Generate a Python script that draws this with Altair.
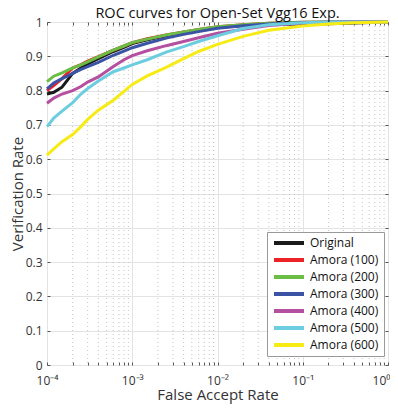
import altair as alt
import pandas as pd

# False accept rates at which the curves were read
far = [1e-4, 1.2e-4, 1.5e-4, 2e-4, 2.5e-4, 3e-4, 4e-4, 6e-4, 8e-4, 1e-3,
       1.5e-3, 2.5e-3, 4e-3, 6e-3, 1e-2, 2e-2, 4e-2, 1e-1, 2e-1, 4e-1, 1.0]

series_names = ["Original", "Amora (100)", "Amora (200)", "Amora (300)",
                "Amora (400)", "Amora (500)", "Amora (600)"]
series_colors = ["#1a1a1a", "#ec2227", "#6abd45", "#3a53a4",
                 "#b54fa0", "#6dcde0", "#f7eb16"]

original = [0.790, 0.795, 0.810, 0.850, 0.866, 0.878, 0.893, 0.914, 0.926, 0.937,
            0.948, 0.960, 0.969, 0.976, 0.984, 0.990, 0.993, 0.994, 0.995, 0.997, 1.0]
amora100 = [0.800, 0.815, 0.835, 0.866, 0.876, 0.886, 0.899, 0.918, 0.930, 0.940,
            0.951, 0.962, 0.971, 0.978, 0.986, 0.992, 0.996, 0.999, 1.0, 1.0, 1.0]
amora200 = [0.826, 0.842, 0.852, 0.866, 0.875, 0.884, 0.898, 0.918, 0.930, 0.940,
            0.950, 0.962, 0.971, 0.978, 0.986, 0.992, 0.996, 0.999, 1.0, 1.0, 1.0]
amora300 = [0.805, 0.822, 0.835, 0.850, 0.862, 0.870, 0.882, 0.903, 0.915, 0.925,
            0.938, 0.953, 0.964, 0.972, 0.982, 0.989, 0.994, 0.998, 0.999, 1.0, 1.0]
amora400 = [0.763, 0.778, 0.790, 0.800, 0.812, 0.825, 0.840, 0.870, 0.890, 0.902,
            0.916, 0.931, 0.943, 0.954, 0.967, 0.979, 0.990, 0.997, 0.999, 1.0, 1.0]
amora500 = [0.695, 0.720, 0.740, 0.765, 0.790, 0.806, 0.828, 0.855, 0.866, 0.875,
            0.890, 0.912, 0.928, 0.943, 0.960, 0.981, 0.992, 0.998, 1.0, 1.0, 1.0]
amora600 = [0.612, 0.630, 0.651, 0.672, 0.695, 0.716, 0.743, 0.772, 0.798, 0.818,
            0.843, 0.868, 0.893, 0.914, 0.935, 0.958, 0.976, 0.988, 0.994, 0.998, 1.0]

all_series = [original, amora100, amora200, amora300, amora400, amora500, amora600]

x_major = [1e-4, 1e-3, 1e-2, 1e-1, 1.0]
x_minor = [m * 10.0 ** e for e in (-4, -3, -2, -1) for m in range(2, 10)]
y_ticks = [round(0.1 * i, 1) for i in range(11)]

rows = []
for k, (name, vals) in enumerate(zip(series_names, all_series)):
    for f, v in zip(far, vals):
        rows.append({"series": name, "k": k, "far": f, "tar": v})
df = pd.DataFrame(rows)

minor_df = pd.DataFrame({"v": x_minor})
xtick_df = pd.DataFrame({"v": x_major + x_minor})
ytick_df = pd.DataFrame({"v": y_ticks})

W, H = 341, 343
FONT = "Open Sans"

xscale = alt.Scale(type="log", domain=[1e-4, 1.0], nice=False)
yscale = alt.Scale(domain=[0, 1], nice=False, zero=False)

sup_expr = ("datum.value == 1 ? '10\u2070' : datum.value == 0.1 ? '10\u207b\u00b9' : "
            "datum.value == 0.01 ? '10\u207b\u00b2' : datum.value == 0.001 ? '10\u207b\u00b3' : "
            "'10\u207b\u2074'")

minor_grid = alt.Chart(minor_df).mark_rule(
    color="#c4c4c4", strokeWidth=1, strokeDash=[1, 3]
).encode(
    x=alt.X("v:Q", scale=xscale,
            axis=alt.Axis(orient="top", offset=-H, values=x_major + x_minor,
                          labels=False, domain=False, grid=False, ticks=True,
                          tickSize=3, tickColor="#555", title=None))
)

top_ticks = alt.Chart(xtick_df).mark_rule(opacity=0).encode(
    x=alt.X("v:Q", scale=xscale,
            axis=alt.Axis(orient="bottom", offset=-H, values=x_major + x_minor,
                          labels=False, domain=False, grid=False, ticks=True,
                          tickSize=3, tickColor="#555", title=None))
)

left_ticks = alt.Chart(ytick_df).mark_rule(opacity=0).encode(
    y=alt.Y("v:Q", scale=yscale,
            axis=alt.Axis(orient="right", offset=-W, values=y_ticks,
                          labels=False, domain=False, grid=False, ticks=True,
                          tickSize=3, tickColor="#555", title=None))
)

right_ticks = alt.Chart(ytick_df).mark_rule(opacity=0).encode(
    y=alt.Y("v:Q", scale=yscale,
            axis=alt.Axis(orient="left", offset=-W, values=y_ticks,
                          labels=False, domain=False, grid=False, ticks=True,
                          tickSize=3, tickColor="#555", title=None))
)

lines = alt.Chart(df).mark_line(strokeWidth=3, clip=False).encode(
    x=alt.X("far:Q", scale=xscale,
            axis=alt.Axis(orient="bottom", values=x_major, labelExpr=sup_expr,
                          grid=True, gridColor="#e3e3e3", ticks=False,
                          domain=False, labelPadding=10, labelFontSize=12,
                          labelFlush=False,
                          labelAlign={"condition": {"test": "datum.value == 1",
                                                    "value": "right"},
                                      "value": "center"},
                          labelOffset={"condition": {"test": "datum.value == 1",
                                                     "value": 2},
                                       "value": 0},
                          labelColor="#333", title="False Accept Rate",
                          titleFontSize=15, titleFontWeight="normal",
                          titleColor="#333", titlePadding=1, labelFont=FONT,
                          titleFont=FONT)),
    y=alt.Y("tar:Q", scale=yscale,
            axis=alt.Axis(orient="left", values=y_ticks, format="~g",
                          grid=True, gridColor="#e3e3e3", ticks=False,
                          domain=False, labelPadding=5, labelFontSize=12,
                          labelFlush=False,
                          labelColor="#333", title="Verification Rate",
                          titleFontSize=15, titleFontWeight="normal",
                          titleColor="#333", titlePadding=0, labelFont=FONT,
                          titleFont=FONT)),
    color=alt.Color("series:N",
                    scale=alt.Scale(domain=series_names, range=series_colors),
                    sort=series_names,
                    legend=alt.Legend(orient="none", legendX=220, legendY=210,
                                      title=None, symbolType="stroke",
                                      symbolSize=900, symbolStrokeWidth=4,
                                      clipHeight=12,
                                      labelFontSize=12, labelFont=FONT,
                                      labelColor="#111", rowPadding=5,
                                      padding=5, fillColor="white",
                                      strokeColor="#999", labelOffset=4)),
    detail="k:O",
)

chart = alt.layer(minor_grid, top_ticks, left_ticks, right_ticks, lines).resolve_axis(
    x="independent", y="independent"
).properties(
    width=W, height=H,
    title=alt.TitleParams("ROC curves for Open-Set Vgg16 Exp.", fontSize=14.5,
                          font=FONT, fontWeight="normal", color="#111",
                          offset=6, dy=11, anchor="middle", frame="group"),
    padding={"left": 39, "top": 14, "right": 2, "bottom": 39},
    autosize=alt.AutoSizeParams(type="none"),
).configure_view(stroke="#9a9a9a", strokeWidth=1.5).configure(background="white")

chart.save("out.html", embed_options={"renderer": "svg", "actions": False})
